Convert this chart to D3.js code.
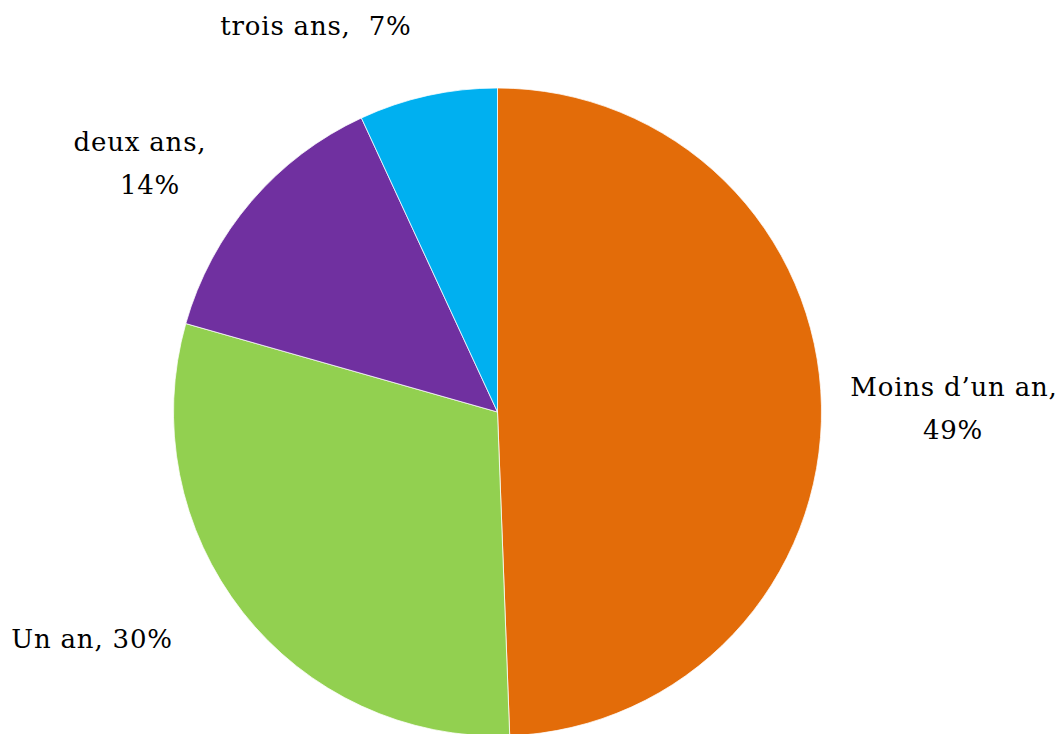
<!DOCTYPE html>
<html>
<head>
<meta charset="utf-8">
<script src="https://cdn.jsdelivr.net/npm/d3@7"></script>
<style>
  html, body { margin: 0; padding: 0; background: #fff; }
  svg text { font-family: "DejaVu Serif", Georgia, serif; font-size: 26px; letter-spacing: 0.8px; fill: #000; }
</style>
</head>
<body>
<svg id="chart" width="1062" height="734"></svg>
<script>
// slices, clockwise from 12 o'clock
const categories = ['Moins d\u2019un an', 'Un an', 'deux ans', 'trois ans'];
const values = [49.4, 30.0, 13.7, 6.9];
const colors = ['#E36C09', '#92D050', '#7030A0', '#00B0F0'];

// label text lines (each entry one line) and where they sit
const labelLines = [
  ['Moins d\u2019un an,', '49%'],
  ['Un an, 30%'],
  ['deux ans,', '14%'],
  ['trois ans,\u00a0 7%']
];
const labelPos = [
  [[954, 396], [953, 439]],
  [[92, 648]],
  [[140, 151], [150, 194]],
  [[316, 35]]
];

const svg = d3.select('#chart');
const cx = 497.5;
const cy = 412;
const radius = 324;

const pie = d3.pie().sort(null).value(d => d.value);
const arc = d3.arc().innerRadius(0).outerRadius(radius);

const data = categories.map((c, i) => ({ name: c, value: values[i], color: colors[i] }));

const g = svg.append('g').attr('transform', `translate(${cx},${cy})`);
g.selectAll('path.slice')
  .data(pie(data))
  .join('path')
  .classed('slice', true)
  .attr('d', arc)
  .attr('fill', d => d.data.color)
  .attr('stroke', '#fff')
  .attr('stroke-width', 0.75);

const labels = svg.append('g').classed('labels', true);
labelLines.forEach((lines, i) => {
  lines.forEach((line, j) => {
    labels.append('text')
      .attr('x', labelPos[i][j][0])
      .attr('y', labelPos[i][j][1])
      .attr('text-anchor', 'middle')
      .text(line);
  });
});
</script>
</body>
</html>
